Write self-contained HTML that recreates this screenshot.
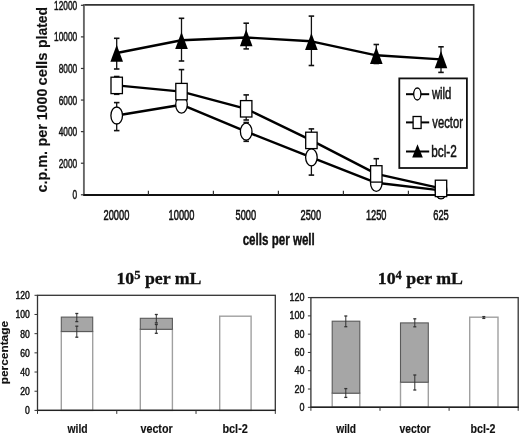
<!DOCTYPE html>
<html><head><meta charset="utf-8"><style>
html,body{margin:0;padding:0;background:#fff;}
body{width:520px;height:435px;overflow:hidden;font-family:"Liberation Sans",sans-serif;}
svg{display:block;filter:blur(0.3px);}
text{fill:#111;}
</style></head><body>
<svg width="520" height="435" viewBox="0 0 520 435">
<rect width="520" height="435" fill="#fff"/>
<path d="M83.9,4.8999999999999995 H473.7 V194.8" fill="none" stroke="#333" stroke-width="1.6"/>
<line x1="83.9" y1="4.1" x2="83.9" y2="194.8" stroke="#666" stroke-width="1.9"/>
<line x1="83.10000000000001" y1="195.0" x2="474.5" y2="195.0" stroke="#111" stroke-width="1.8"/>
<line x1="80.9" y1="194.80" x2="83.9" y2="194.80" stroke="#333" stroke-width="1.2"/>
<text x="77.2" y="199.40" font-size="12.8" font-weight="normal" text-anchor="end" font-family="Liberation Sans, sans-serif" textLength="4.6" lengthAdjust="spacingAndGlyphs" stroke="#111" stroke-width="0.5" >0</text>
<line x1="80.9" y1="163.22" x2="83.9" y2="163.22" stroke="#333" stroke-width="1.2"/>
<text x="77.2" y="167.82" font-size="12.8" font-weight="normal" text-anchor="end" font-family="Liberation Sans, sans-serif" textLength="18.5" lengthAdjust="spacingAndGlyphs" stroke="#111" stroke-width="0.5" >2000</text>
<line x1="80.9" y1="131.63" x2="83.9" y2="131.63" stroke="#333" stroke-width="1.2"/>
<text x="77.2" y="136.23" font-size="12.8" font-weight="normal" text-anchor="end" font-family="Liberation Sans, sans-serif" textLength="18.5" lengthAdjust="spacingAndGlyphs" stroke="#111" stroke-width="0.5" >4000</text>
<line x1="80.9" y1="100.05" x2="83.9" y2="100.05" stroke="#333" stroke-width="1.2"/>
<text x="77.2" y="104.65" font-size="12.8" font-weight="normal" text-anchor="end" font-family="Liberation Sans, sans-serif" textLength="18.5" lengthAdjust="spacingAndGlyphs" stroke="#111" stroke-width="0.5" >6000</text>
<line x1="80.9" y1="68.47" x2="83.9" y2="68.47" stroke="#333" stroke-width="1.2"/>
<text x="77.2" y="73.07" font-size="12.8" font-weight="normal" text-anchor="end" font-family="Liberation Sans, sans-serif" textLength="18.5" lengthAdjust="spacingAndGlyphs" stroke="#111" stroke-width="0.5" >8000</text>
<line x1="80.9" y1="36.88" x2="83.9" y2="36.88" stroke="#333" stroke-width="1.2"/>
<text x="77.2" y="41.48" font-size="12.8" font-weight="normal" text-anchor="end" font-family="Liberation Sans, sans-serif" textLength="23.1" lengthAdjust="spacingAndGlyphs" stroke="#111" stroke-width="0.5" >10000</text>
<line x1="80.9" y1="5.30" x2="83.9" y2="5.30" stroke="#333" stroke-width="1.2"/>
<text x="77.2" y="9.90" font-size="12.8" font-weight="normal" text-anchor="end" font-family="Liberation Sans, sans-serif" textLength="23.1" lengthAdjust="spacingAndGlyphs" stroke="#111" stroke-width="0.5" >12000</text>
<line x1="148.4" y1="190.8" x2="148.4" y2="194.8" stroke="#333" stroke-width="1.2"/>
<line x1="213.4" y1="190.8" x2="213.4" y2="194.8" stroke="#333" stroke-width="1.2"/>
<line x1="278.4" y1="190.8" x2="278.4" y2="194.8" stroke="#333" stroke-width="1.2"/>
<line x1="343.4" y1="190.8" x2="343.4" y2="194.8" stroke="#333" stroke-width="1.2"/>
<line x1="408.4" y1="190.8" x2="408.4" y2="194.8" stroke="#333" stroke-width="1.2"/>
<text x="116.4" y="220.2" font-size="14" font-weight="normal" text-anchor="middle" font-family="Liberation Sans, sans-serif" textLength="25.8" lengthAdjust="spacingAndGlyphs" stroke="#111" stroke-width="0.55" >20000</text>
<text x="181.5" y="220.2" font-size="14" font-weight="normal" text-anchor="middle" font-family="Liberation Sans, sans-serif" textLength="25.8" lengthAdjust="spacingAndGlyphs" stroke="#111" stroke-width="0.55" >10000</text>
<text x="245.8" y="220.2" font-size="14" font-weight="normal" text-anchor="middle" font-family="Liberation Sans, sans-serif" textLength="20.6" lengthAdjust="spacingAndGlyphs" stroke="#111" stroke-width="0.55" >5000</text>
<text x="310.8" y="220.2" font-size="14" font-weight="normal" text-anchor="middle" font-family="Liberation Sans, sans-serif" textLength="20.6" lengthAdjust="spacingAndGlyphs" stroke="#111" stroke-width="0.55" >2500</text>
<text x="376.2" y="220.2" font-size="14" font-weight="normal" text-anchor="middle" font-family="Liberation Sans, sans-serif" textLength="20.6" lengthAdjust="spacingAndGlyphs" stroke="#111" stroke-width="0.55" >1250</text>
<text x="441.0" y="220.2" font-size="14" font-weight="normal" text-anchor="middle" font-family="Liberation Sans, sans-serif" textLength="15.5" lengthAdjust="spacingAndGlyphs" stroke="#111" stroke-width="0.55" >625</text>
<text x="242.65" y="245.0" font-size="16" font-weight="bold" text-anchor="start" font-family="Liberation Sans, sans-serif" textLength="72.17" lengthAdjust="spacingAndGlyphs" stroke="#111" stroke-width="0.4" >cells per well</text>
<g transform="translate(47,190) rotate(-90)">
<text x="-2.56" y="0" font-size="14" font-weight="bold" text-anchor="start" font-family="Liberation Sans, sans-serif" textLength="41.66" lengthAdjust="spacingAndGlyphs" stroke="#111" stroke-width="0.15" >c.p.m.</text>
<text x="43.44" y="0" font-size="14" font-weight="bold" text-anchor="start" font-family="Liberation Sans, sans-serif" textLength="22.58" lengthAdjust="spacingAndGlyphs" stroke="#111" stroke-width="0.15" >per</text>
<text x="69.70" y="0" font-size="14" font-weight="bold" text-anchor="start" font-family="Liberation Sans, sans-serif" textLength="31.68" lengthAdjust="spacingAndGlyphs" stroke="#111" stroke-width="0.15" >1000</text>
<text x="104.62" y="0" font-size="14" font-weight="bold" text-anchor="start" font-family="Liberation Sans, sans-serif" textLength="32.78" lengthAdjust="spacingAndGlyphs" stroke="#111" stroke-width="0.15" >cells</text>
<text x="142.08" y="0" font-size="14" font-weight="bold" text-anchor="start" font-family="Liberation Sans, sans-serif" textLength="40.93" lengthAdjust="spacingAndGlyphs" stroke="#111" stroke-width="0.15" >plated</text>
</g>
<line x1="116.7" y1="102.6" x2="116.7" y2="130.6" stroke="#111" stroke-width="1.3"/>
<line x1="113.95" y1="102.6" x2="119.45" y2="102.6" stroke="#111" stroke-width="1.6"/>
<line x1="113.95" y1="130.6" x2="119.45" y2="130.6" stroke="#111" stroke-width="1.6"/>
<line x1="116.7" y1="76.5" x2="116.7" y2="94.3" stroke="#111" stroke-width="1.3"/>
<line x1="113.95" y1="76.5" x2="119.45" y2="76.5" stroke="#111" stroke-width="1.6"/>
<line x1="113.95" y1="94.3" x2="119.45" y2="94.3" stroke="#111" stroke-width="1.6"/>
<line x1="116.7" y1="38.3" x2="116.7" y2="69" stroke="#111" stroke-width="1.3"/>
<line x1="113.95" y1="38.3" x2="119.45" y2="38.3" stroke="#111" stroke-width="1.6"/>
<line x1="113.95" y1="69" x2="119.45" y2="69" stroke="#111" stroke-width="1.6"/>
<line x1="181.5" y1="95" x2="181.5" y2="112" stroke="#111" stroke-width="1.3"/>
<line x1="178.75" y1="95" x2="184.25" y2="95" stroke="#111" stroke-width="1.6"/>
<line x1="178.75" y1="112" x2="184.25" y2="112" stroke="#111" stroke-width="1.6"/>
<line x1="181.5" y1="69.6" x2="181.5" y2="100" stroke="#111" stroke-width="1.3"/>
<line x1="178.75" y1="69.6" x2="184.25" y2="69.6" stroke="#111" stroke-width="1.6"/>
<line x1="178.75" y1="100" x2="184.25" y2="100" stroke="#111" stroke-width="1.6"/>
<line x1="181.5" y1="18.3" x2="181.5" y2="61" stroke="#111" stroke-width="1.3"/>
<line x1="178.75" y1="18.3" x2="184.25" y2="18.3" stroke="#111" stroke-width="1.6"/>
<line x1="178.75" y1="61" x2="184.25" y2="61" stroke="#111" stroke-width="1.6"/>
<line x1="246.2" y1="122.5" x2="246.2" y2="141.3" stroke="#111" stroke-width="1.3"/>
<line x1="243.45" y1="122.5" x2="248.95" y2="122.5" stroke="#111" stroke-width="1.6"/>
<line x1="243.45" y1="141.3" x2="248.95" y2="141.3" stroke="#111" stroke-width="1.6"/>
<line x1="246.2" y1="94.9" x2="246.2" y2="120" stroke="#111" stroke-width="1.3"/>
<line x1="243.45" y1="94.9" x2="248.95" y2="94.9" stroke="#111" stroke-width="1.6"/>
<line x1="243.45" y1="120" x2="248.95" y2="120" stroke="#111" stroke-width="1.6"/>
<line x1="246.2" y1="23.2" x2="246.2" y2="48.9" stroke="#111" stroke-width="1.3"/>
<line x1="243.45" y1="23.2" x2="248.95" y2="23.2" stroke="#111" stroke-width="1.6"/>
<line x1="243.45" y1="48.9" x2="248.95" y2="48.9" stroke="#111" stroke-width="1.6"/>
<line x1="311.4" y1="140" x2="311.4" y2="175.1" stroke="#111" stroke-width="1.3"/>
<line x1="308.65" y1="140" x2="314.15" y2="140" stroke="#111" stroke-width="1.6"/>
<line x1="308.65" y1="175.1" x2="314.15" y2="175.1" stroke="#111" stroke-width="1.6"/>
<line x1="311.4" y1="128.9" x2="311.4" y2="148" stroke="#111" stroke-width="1.3"/>
<line x1="308.65" y1="128.9" x2="314.15" y2="128.9" stroke="#111" stroke-width="1.6"/>
<line x1="308.65" y1="148" x2="314.15" y2="148" stroke="#111" stroke-width="1.6"/>
<line x1="311.4" y1="16.1" x2="311.4" y2="65.5" stroke="#111" stroke-width="1.3"/>
<line x1="308.65" y1="16.1" x2="314.15" y2="16.1" stroke="#111" stroke-width="1.6"/>
<line x1="308.65" y1="65.5" x2="314.15" y2="65.5" stroke="#111" stroke-width="1.6"/>
<line x1="376.3" y1="175" x2="376.3" y2="190" stroke="#111" stroke-width="1.3"/>
<line x1="373.55" y1="175" x2="379.05" y2="175" stroke="#111" stroke-width="1.6"/>
<line x1="373.55" y1="190" x2="379.05" y2="190" stroke="#111" stroke-width="1.6"/>
<line x1="376.3" y1="158.7" x2="376.3" y2="180" stroke="#111" stroke-width="1.3"/>
<line x1="373.55" y1="158.7" x2="379.05" y2="158.7" stroke="#111" stroke-width="1.6"/>
<line x1="373.55" y1="180" x2="379.05" y2="180" stroke="#111" stroke-width="1.6"/>
<line x1="376.3" y1="44.5" x2="376.3" y2="63.5" stroke="#111" stroke-width="1.3"/>
<line x1="373.55" y1="44.5" x2="379.05" y2="44.5" stroke="#111" stroke-width="1.6"/>
<line x1="373.55" y1="63.5" x2="379.05" y2="63.5" stroke="#111" stroke-width="1.6"/>
<line x1="441.0" y1="182" x2="441.0" y2="198" stroke="#111" stroke-width="1.3"/>
<line x1="438.25" y1="182" x2="443.75" y2="182" stroke="#111" stroke-width="1.6"/>
<line x1="438.25" y1="198" x2="443.75" y2="198" stroke="#111" stroke-width="1.6"/>
<line x1="441.0" y1="183" x2="441.0" y2="195" stroke="#111" stroke-width="1.3"/>
<line x1="438.25" y1="183" x2="443.75" y2="183" stroke="#111" stroke-width="1.6"/>
<line x1="438.25" y1="195" x2="443.75" y2="195" stroke="#111" stroke-width="1.6"/>
<line x1="441.0" y1="46.8" x2="441.0" y2="72.4" stroke="#111" stroke-width="1.3"/>
<line x1="438.25" y1="46.8" x2="443.75" y2="46.8" stroke="#111" stroke-width="1.6"/>
<line x1="438.25" y1="72.4" x2="443.75" y2="72.4" stroke="#111" stroke-width="1.6"/>
<polyline points="116.7,115.5 181.5,104.7 246.2,131.6 311.4,157.3 376.3,182.8 441.0,190.4" fill="none" stroke="#000" stroke-width="2.4" stroke-linejoin="round"/>
<polyline points="116.7,85.4 181.5,91.6 246.2,108.8 311.4,140.4 376.3,173.9 441.0,188.4" fill="none" stroke="#000" stroke-width="2.4" stroke-linejoin="round"/>
<polyline points="116.7,53.0 181.5,40.3 246.2,37.5 311.4,41.3 376.3,55.3 441.0,59.4" fill="none" stroke="#000" stroke-width="2.4" stroke-linejoin="round"/>
<ellipse cx="116.7" cy="115.5" rx="5.8" ry="8.5" fill="#fff" stroke="#000" stroke-width="1.3"/>
<ellipse cx="181.5" cy="104.7" rx="5.8" ry="8.5" fill="#fff" stroke="#000" stroke-width="1.3"/>
<ellipse cx="246.2" cy="131.6" rx="5.8" ry="8.5" fill="#fff" stroke="#000" stroke-width="1.3"/>
<ellipse cx="311.4" cy="157.3" rx="5.8" ry="8.5" fill="#fff" stroke="#000" stroke-width="1.3"/>
<ellipse cx="376.3" cy="182.8" rx="5.8" ry="8.5" fill="#fff" stroke="#000" stroke-width="1.3"/>
<ellipse cx="441.0" cy="190.4" rx="5.8" ry="8.5" fill="#fff" stroke="#000" stroke-width="1.3"/>
<rect x="111.0" y="77.2" width="11.4" height="16.4" fill="#fff" stroke="#000" stroke-width="1.3"/>
<rect x="175.8" y="83.4" width="11.4" height="16.4" fill="#fff" stroke="#000" stroke-width="1.3"/>
<rect x="240.5" y="100.6" width="11.4" height="16.4" fill="#fff" stroke="#000" stroke-width="1.3"/>
<rect x="305.7" y="132.2" width="11.4" height="16.4" fill="#fff" stroke="#000" stroke-width="1.3"/>
<rect x="370.6" y="165.7" width="11.4" height="16.4" fill="#fff" stroke="#000" stroke-width="1.3"/>
<rect x="435.3" y="180.2" width="11.4" height="16.4" fill="#fff" stroke="#000" stroke-width="1.3"/>
<polygon points="116.7,44.7 123.0,61.8 110.4,61.8" fill="#000"/>
<polygon points="181.5,32.0 187.8,49.1 175.2,49.1" fill="#000"/>
<polygon points="246.2,29.2 252.5,46.3 239.9,46.3" fill="#000"/>
<polygon points="311.4,33.0 317.7,50.1 305.1,50.1" fill="#000"/>
<polygon points="376.3,47.0 382.6,64.1 370.0,64.1" fill="#000"/>
<polygon points="441.0,51.1 447.3,68.2 434.7,68.2" fill="#000"/>
<rect x="399.3" y="78.4" width="67.6" height="89.6" fill="#fff" stroke="#111" stroke-width="1.8"/>
<line x1="406" y1="94.2" x2="429.2" y2="94.2" stroke="#000" stroke-width="2"/>
<line x1="406" y1="122.4" x2="429.2" y2="122.4" stroke="#000" stroke-width="2"/>
<line x1="406" y1="151.5" x2="429.2" y2="151.5" stroke="#000" stroke-width="2"/>
<ellipse cx="417.3" cy="94" rx="3.6" ry="6" fill="#fff" stroke="#000" stroke-width="1.3"/>
<rect x="413.1" y="116.5" width="8" height="12" fill="#fff" stroke="#000" stroke-width="1.3"/>
<polygon points="417.5,144.3 422.8,157.6 412.2,157.6" fill="#000"/>
<text x="431.92" y="98.7" font-size="16" font-weight="normal" text-anchor="start" font-family="Liberation Sans, sans-serif" textLength="19.51" lengthAdjust="spacingAndGlyphs" stroke="#111" stroke-width="0.5" >wild</text>
<text x="432.36" y="127.9" font-size="16" font-weight="normal" text-anchor="start" font-family="Liberation Sans, sans-serif" textLength="30.52" lengthAdjust="spacingAndGlyphs" stroke="#111" stroke-width="0.5" >vector</text>
<text x="431.24" y="156.6" font-size="16" font-weight="normal" text-anchor="start" font-family="Liberation Sans, sans-serif" textLength="25.55" lengthAdjust="spacingAndGlyphs" stroke="#111" stroke-width="0.5" >bcl-2</text>
<rect x="61.3" y="331.5" width="31.400000000000006" height="78.89999999999998" fill="#fff" stroke="#a0a0a0" stroke-width="1.4"/>
<rect x="61.3" y="317.1" width="31.400000000000006" height="14.399999999999977" fill="#a6a6a6" stroke="#5a5a5a" stroke-width="1.1"/>
<rect x="140.3" y="329.3" width="32.099999999999994" height="81.09999999999997" fill="#fff" stroke="#a0a0a0" stroke-width="1.4"/>
<rect x="140.3" y="318.3" width="32.099999999999994" height="11.0" fill="#a6a6a6" stroke="#5a5a5a" stroke-width="1.1"/>
<rect x="219.7" y="316.2" width="31.400000000000006" height="94.19999999999999" fill="#fff" stroke="#a0a0a0" stroke-width="1.4"/>
<line x1="76.8" y1="313.5" x2="76.8" y2="321.6" stroke="#333" stroke-width="1.0"/>
<line x1="75.3" y1="313.5" x2="78.3" y2="313.5" stroke="#333" stroke-width="1.3"/>
<line x1="75.3" y1="321.6" x2="78.3" y2="321.6" stroke="#333" stroke-width="1.3"/>
<line x1="76.8" y1="326.2" x2="76.8" y2="337.2" stroke="#333" stroke-width="1.0"/>
<line x1="75.3" y1="326.2" x2="78.3" y2="326.2" stroke="#333" stroke-width="1.3"/>
<line x1="75.3" y1="337.2" x2="78.3" y2="337.2" stroke="#333" stroke-width="1.3"/>
<line x1="156.3" y1="314.5" x2="156.3" y2="322.9" stroke="#333" stroke-width="1.0"/>
<line x1="154.8" y1="314.5" x2="157.8" y2="314.5" stroke="#333" stroke-width="1.3"/>
<line x1="154.8" y1="322.9" x2="157.8" y2="322.9" stroke="#333" stroke-width="1.3"/>
<line x1="156.3" y1="324.5" x2="156.3" y2="333.3" stroke="#333" stroke-width="1.0"/>
<line x1="154.8" y1="324.5" x2="157.8" y2="324.5" stroke="#333" stroke-width="1.3"/>
<line x1="154.8" y1="333.3" x2="157.8" y2="333.3" stroke="#333" stroke-width="1.3"/>
<rect x="37.5" y="295.3" width="237.8" height="115.09999999999997" fill="none" stroke="#333" stroke-width="1.3"/>
<line x1="36.9" y1="410.4" x2="275.90000000000003" y2="410.4" stroke="#222" stroke-width="1.4"/>
<line x1="34.5" y1="410.40" x2="37.5" y2="410.40" stroke="#333" stroke-width="1"/>
<text x="29.8" y="414.40" font-size="10.5" font-weight="normal" text-anchor="end" font-family="Liberation Sans, sans-serif" textLength="4.8" lengthAdjust="spacingAndGlyphs" stroke="#111" stroke-width="0.45" >0</text>
<line x1="34.5" y1="391.22" x2="37.5" y2="391.22" stroke="#333" stroke-width="1"/>
<text x="29.8" y="395.22" font-size="10.5" font-weight="normal" text-anchor="end" font-family="Liberation Sans, sans-serif" textLength="9.6" lengthAdjust="spacingAndGlyphs" stroke="#111" stroke-width="0.45" >20</text>
<line x1="34.5" y1="372.03" x2="37.5" y2="372.03" stroke="#333" stroke-width="1"/>
<text x="29.8" y="376.03" font-size="10.5" font-weight="normal" text-anchor="end" font-family="Liberation Sans, sans-serif" textLength="9.6" lengthAdjust="spacingAndGlyphs" stroke="#111" stroke-width="0.45" >40</text>
<line x1="34.5" y1="352.85" x2="37.5" y2="352.85" stroke="#333" stroke-width="1"/>
<text x="29.8" y="356.85" font-size="10.5" font-weight="normal" text-anchor="end" font-family="Liberation Sans, sans-serif" textLength="9.6" lengthAdjust="spacingAndGlyphs" stroke="#111" stroke-width="0.45" >60</text>
<line x1="34.5" y1="333.67" x2="37.5" y2="333.67" stroke="#333" stroke-width="1"/>
<text x="29.8" y="337.67" font-size="10.5" font-weight="normal" text-anchor="end" font-family="Liberation Sans, sans-serif" textLength="9.6" lengthAdjust="spacingAndGlyphs" stroke="#111" stroke-width="0.45" >80</text>
<line x1="34.5" y1="314.48" x2="37.5" y2="314.48" stroke="#333" stroke-width="1"/>
<text x="29.8" y="318.48" font-size="10.5" font-weight="normal" text-anchor="end" font-family="Liberation Sans, sans-serif" textLength="14.4" lengthAdjust="spacingAndGlyphs" stroke="#111" stroke-width="0.45" >100</text>
<line x1="34.5" y1="295.30" x2="37.5" y2="295.30" stroke="#333" stroke-width="1"/>
<text x="29.8" y="299.30" font-size="10.5" font-weight="normal" text-anchor="end" font-family="Liberation Sans, sans-serif" textLength="14.4" lengthAdjust="spacingAndGlyphs" stroke="#111" stroke-width="0.45" >120</text>
<line x1="37.50" y1="410.4" x2="37.50" y2="413.9" stroke="#333" stroke-width="1"/>
<line x1="116.77" y1="410.4" x2="116.77" y2="413.9" stroke="#333" stroke-width="1"/>
<line x1="196.03" y1="410.4" x2="196.03" y2="413.9" stroke="#333" stroke-width="1"/>
<line x1="275.30" y1="410.4" x2="275.30" y2="413.9" stroke="#333" stroke-width="1"/>
<text x="67.53" y="432.7" font-size="12" font-weight="bold" text-anchor="start" font-family="Liberation Sans, sans-serif" textLength="20.15" lengthAdjust="spacingAndGlyphs" stroke="#111" stroke-width="0.15" >wild</text>
<text x="140.46" y="432.7" font-size="12" font-weight="bold" text-anchor="start" font-family="Liberation Sans, sans-serif" textLength="32.20" lengthAdjust="spacingAndGlyphs" stroke="#111" stroke-width="0.15" >vector</text>
<text x="222.38" y="432.7" font-size="12" font-weight="bold" text-anchor="start" font-family="Liberation Sans, sans-serif" textLength="25.46" lengthAdjust="spacingAndGlyphs" stroke="#111" stroke-width="0.15" >bcl-2</text>
<text x="116.4" y="283.7" font-size="17" font-weight="bold" font-family="Liberation Serif, serif" stroke="#111" stroke-width="0.3" textLength="85.1" lengthAdjust="spacingAndGlyphs">10<tspan dy="-5.2" font-size="12">5</tspan><tspan dy="5.2"> per mL</tspan></text>
<rect x="332.2" y="393.2" width="27.600000000000023" height="14.100000000000023" fill="#fff" stroke="#a0a0a0" stroke-width="1.4"/>
<rect x="332.2" y="321.2" width="27.600000000000023" height="72.0" fill="#a6a6a6" stroke="#5a5a5a" stroke-width="1.1"/>
<rect x="400.5" y="382.2" width="27.80000000000001" height="25.100000000000023" fill="#fff" stroke="#a0a0a0" stroke-width="1.4"/>
<rect x="400.5" y="322.9" width="27.80000000000001" height="59.30000000000001" fill="#a6a6a6" stroke="#5a5a5a" stroke-width="1.1"/>
<rect x="469.7" y="317.2" width="28.30000000000001" height="90.10000000000002" fill="#fff" stroke="#a0a0a0" stroke-width="1.4"/>
<line x1="345.8" y1="316" x2="345.8" y2="326.7" stroke="#333" stroke-width="1.0"/>
<line x1="344.3" y1="316" x2="347.3" y2="316" stroke="#333" stroke-width="1.3"/>
<line x1="344.3" y1="326.7" x2="347.3" y2="326.7" stroke="#333" stroke-width="1.3"/>
<line x1="345.8" y1="388.6" x2="345.8" y2="397.4" stroke="#333" stroke-width="1.0"/>
<line x1="344.3" y1="388.6" x2="347.3" y2="388.6" stroke="#333" stroke-width="1.3"/>
<line x1="344.3" y1="397.4" x2="347.3" y2="397.4" stroke="#333" stroke-width="1.3"/>
<line x1="414.8" y1="318.8" x2="414.8" y2="326.8" stroke="#333" stroke-width="1.0"/>
<line x1="413.3" y1="318.8" x2="416.3" y2="318.8" stroke="#333" stroke-width="1.3"/>
<line x1="413.3" y1="326.8" x2="416.3" y2="326.8" stroke="#333" stroke-width="1.3"/>
<line x1="414.8" y1="375" x2="414.8" y2="390" stroke="#333" stroke-width="1.0"/>
<line x1="413.3" y1="375" x2="416.3" y2="375" stroke="#333" stroke-width="1.3"/>
<line x1="413.3" y1="390" x2="416.3" y2="390" stroke="#333" stroke-width="1.3"/>
<line x1="483.8" y1="316.6" x2="483.8" y2="318.4" stroke="#333" stroke-width="1.0"/>
<line x1="482.3" y1="316.6" x2="485.3" y2="316.6" stroke="#333" stroke-width="1.3"/>
<line x1="482.3" y1="318.4" x2="485.3" y2="318.4" stroke="#333" stroke-width="1.3"/>
<rect x="310.9" y="297.6" width="207.30000000000007" height="109.69999999999999" fill="none" stroke="#333" stroke-width="1.3"/>
<line x1="310.29999999999995" y1="407.3" x2="518.8000000000001" y2="407.3" stroke="#222" stroke-width="1.4"/>
<line x1="307.9" y1="407.30" x2="310.9" y2="407.30" stroke="#333" stroke-width="1"/>
<text x="304.5" y="410.90" font-size="11.5" font-weight="normal" text-anchor="end" font-family="Liberation Sans, sans-serif" textLength="5.0" lengthAdjust="spacingAndGlyphs" stroke="#111" stroke-width="0.45" >0</text>
<line x1="307.9" y1="389.02" x2="310.9" y2="389.02" stroke="#333" stroke-width="1"/>
<text x="304.5" y="392.62" font-size="11.5" font-weight="normal" text-anchor="end" font-family="Liberation Sans, sans-serif" textLength="10.0" lengthAdjust="spacingAndGlyphs" stroke="#111" stroke-width="0.45" >20</text>
<line x1="307.9" y1="370.73" x2="310.9" y2="370.73" stroke="#333" stroke-width="1"/>
<text x="304.5" y="374.33" font-size="11.5" font-weight="normal" text-anchor="end" font-family="Liberation Sans, sans-serif" textLength="10.0" lengthAdjust="spacingAndGlyphs" stroke="#111" stroke-width="0.45" >40</text>
<line x1="307.9" y1="352.45" x2="310.9" y2="352.45" stroke="#333" stroke-width="1"/>
<text x="304.5" y="356.05" font-size="11.5" font-weight="normal" text-anchor="end" font-family="Liberation Sans, sans-serif" textLength="10.0" lengthAdjust="spacingAndGlyphs" stroke="#111" stroke-width="0.45" >60</text>
<line x1="307.9" y1="334.17" x2="310.9" y2="334.17" stroke="#333" stroke-width="1"/>
<text x="304.5" y="337.77" font-size="11.5" font-weight="normal" text-anchor="end" font-family="Liberation Sans, sans-serif" textLength="10.0" lengthAdjust="spacingAndGlyphs" stroke="#111" stroke-width="0.45" >80</text>
<line x1="307.9" y1="315.88" x2="310.9" y2="315.88" stroke="#333" stroke-width="1"/>
<text x="304.5" y="319.48" font-size="11.5" font-weight="normal" text-anchor="end" font-family="Liberation Sans, sans-serif" textLength="15.0" lengthAdjust="spacingAndGlyphs" stroke="#111" stroke-width="0.45" >100</text>
<line x1="307.9" y1="297.60" x2="310.9" y2="297.60" stroke="#333" stroke-width="1"/>
<text x="304.5" y="301.20" font-size="11.5" font-weight="normal" text-anchor="end" font-family="Liberation Sans, sans-serif" textLength="15.0" lengthAdjust="spacingAndGlyphs" stroke="#111" stroke-width="0.45" >120</text>
<line x1="310.90" y1="407.3" x2="310.90" y2="410.8" stroke="#333" stroke-width="1"/>
<line x1="380.00" y1="407.3" x2="380.00" y2="410.8" stroke="#333" stroke-width="1"/>
<line x1="449.10" y1="407.3" x2="449.10" y2="410.8" stroke="#333" stroke-width="1"/>
<line x1="518.20" y1="407.3" x2="518.20" y2="410.8" stroke="#333" stroke-width="1"/>
<text x="336.23" y="432.7" font-size="12" font-weight="bold" text-anchor="start" font-family="Liberation Sans, sans-serif" textLength="19.84" lengthAdjust="spacingAndGlyphs" stroke="#111" stroke-width="0.15" >wild</text>
<text x="399.56" y="432.7" font-size="12" font-weight="bold" text-anchor="start" font-family="Liberation Sans, sans-serif" textLength="31.00" lengthAdjust="spacingAndGlyphs" stroke="#111" stroke-width="0.15" >vector</text>
<text x="470.50" y="432.7" font-size="12" font-weight="bold" text-anchor="start" font-family="Liberation Sans, sans-serif" textLength="24.93" lengthAdjust="spacingAndGlyphs" stroke="#111" stroke-width="0.15" >bcl-2</text>
<text x="377.8" y="284.1" font-size="17" font-weight="bold" font-family="Liberation Serif, serif" stroke="#111" stroke-width="0.3" textLength="85.2" lengthAdjust="spacingAndGlyphs">10<tspan dy="-5.2" font-size="12">4</tspan><tspan dy="5.2"> per mL</tspan></text>
<g transform="translate(8.0,383.5) rotate(-90)">
<text x="-0.78" y="0" font-size="11" font-weight="bold" text-anchor="start" font-family="Liberation Sans, sans-serif" textLength="63.29" lengthAdjust="spacingAndGlyphs" stroke="#111" stroke-width="0.15" >percentage</text>
</g>
</svg>
</body></html>
